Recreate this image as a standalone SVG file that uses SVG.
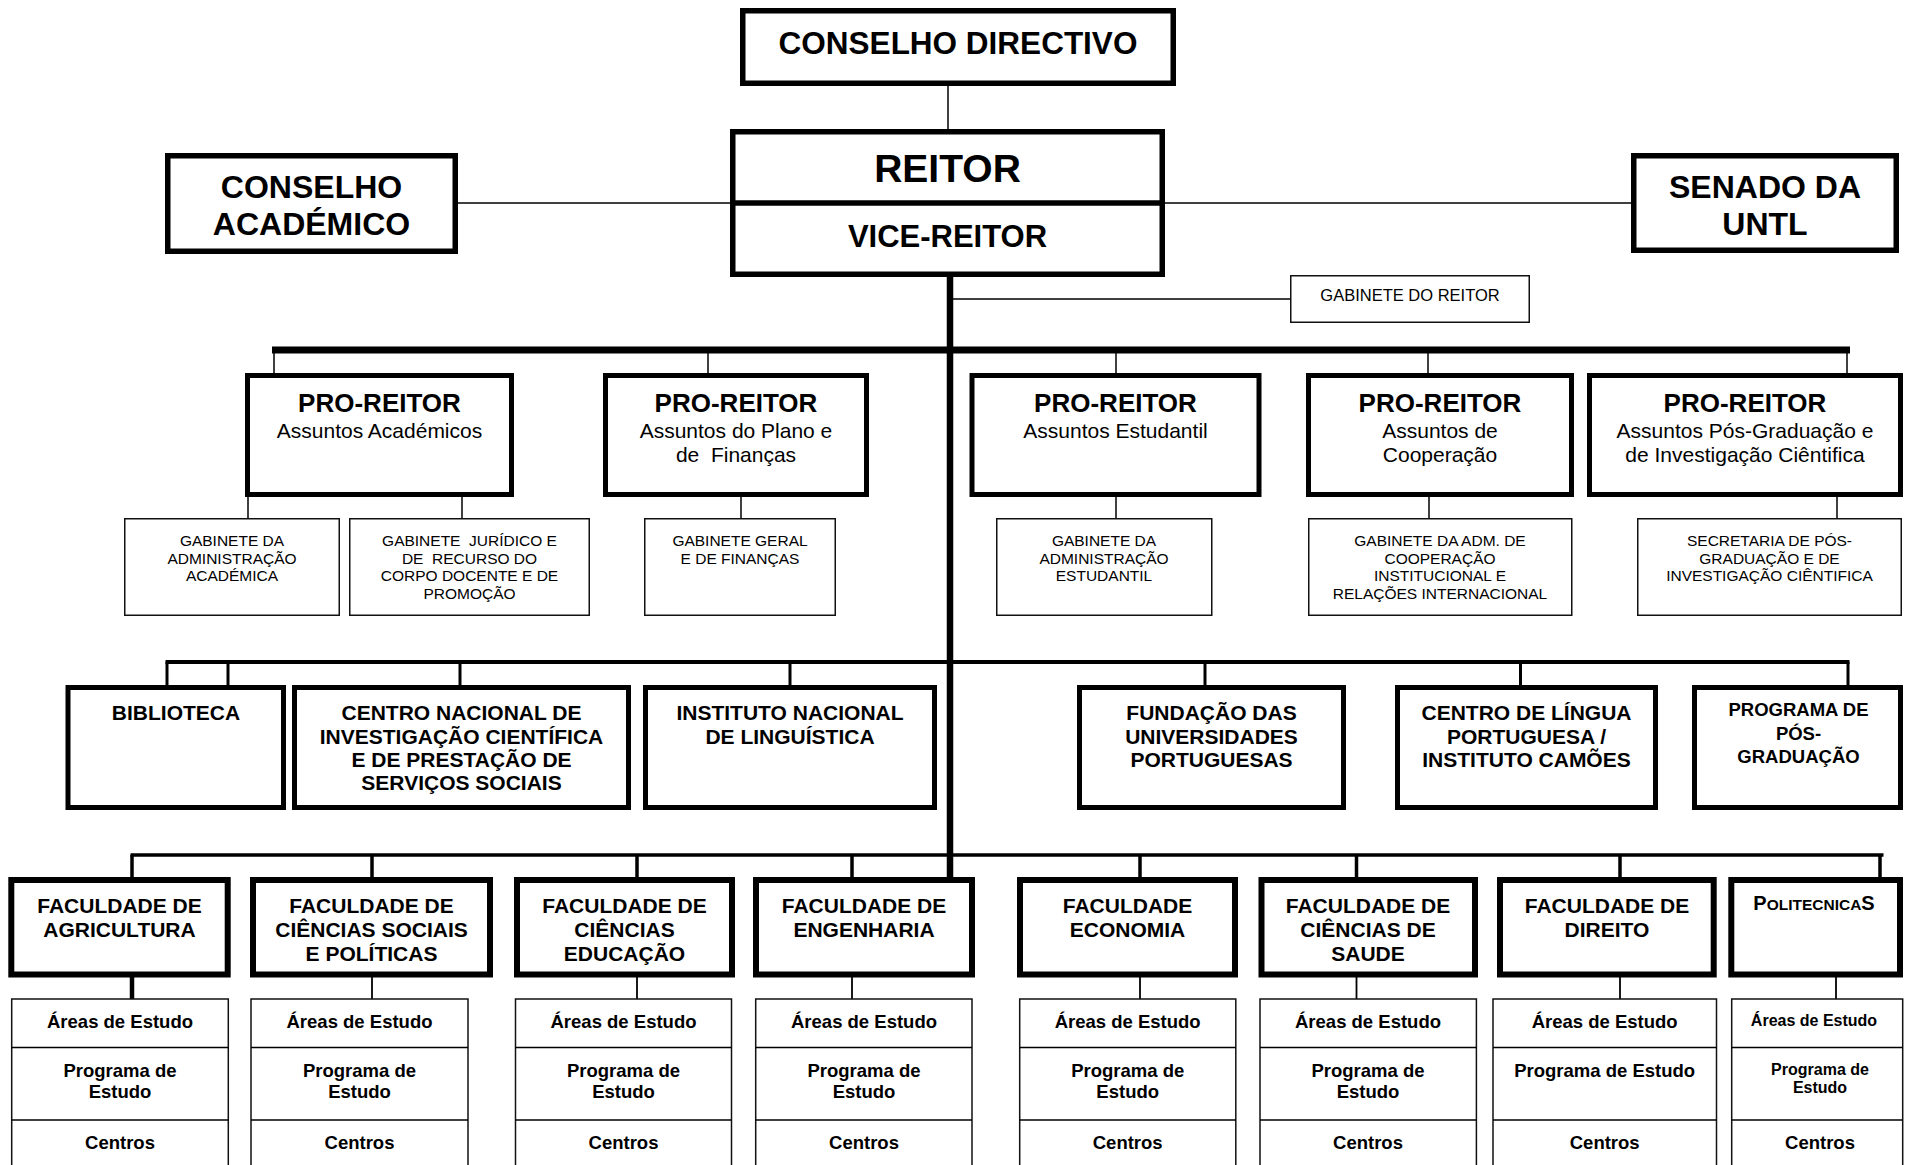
<svg xmlns="http://www.w3.org/2000/svg" width="1905" height="1165" viewBox="0 0 1905 1165">
<style>
  .bx{fill:#fff;stroke:#000;stroke-width:5.5}
  .bp{fill:#fff;stroke:#000;stroke-width:5}
  .bf{fill:#fff;stroke:#000;stroke-width:6}
  .bt{fill:#fff;stroke:#111;stroke-width:1.5}
  .ln{stroke:#000;stroke-width:1.5;fill:none}
  .b{font-family:'Liberation Sans',Arial,sans-serif;font-weight:bold;text-anchor:middle;fill:#000}
  .r{font-family:'Liberation Sans',Arial,sans-serif;text-anchor:middle;fill:#000}
  .t31{font-size:31.5px}
  .t26{font-size:26px}
  .t21{font-size:21px}
  .t18{font-size:18.5px}
  .t16{font-size:16px}
  .s15{font-size:15.5px}
</style>
<rect width="1905" height="1165" fill="#fff"/>
<g id="connectors">
  <line class="ln" x1="948" y1="86" x2="948" y2="129"/>
  <line class="ln" x1="458" y1="203" x2="730" y2="203"/>
  <line class="ln" x1="1165" y1="203" x2="1631" y2="203"/>
  <line class="ln" x1="950" y1="299" x2="1290" y2="299"/>
  <line x1="950" y1="277" x2="950" y2="878" stroke="#000" stroke-width="6.5"/>
  <line x1="272" y1="350" x2="1850" y2="350" stroke="#000" stroke-width="7"/>
  <g class="ln">
    <line x1="274" y1="350" x2="274" y2="374"/>
    <line x1="708" y1="350" x2="708" y2="374"/>
    <line x1="1116" y1="350" x2="1116" y2="374"/>
    <line x1="1428" y1="350" x2="1428" y2="374"/>
    <line x1="1847" y1="350" x2="1847" y2="374"/>
    <line x1="248" y1="497" x2="248" y2="519"/>
    <line x1="462" y1="497" x2="462" y2="519"/>
    <line x1="741" y1="497" x2="741" y2="519"/>
    <line x1="1116" y1="497" x2="1116" y2="519"/>
    <line x1="1429" y1="497" x2="1429" y2="519"/>
    <line x1="1837" y1="497" x2="1837" y2="519"/>
  </g>
  <line x1="165.5" y1="662" x2="1849.5" y2="662" stroke="#000" stroke-width="4"/>
  <g stroke="#000" stroke-width="3">
    <line x1="167" y1="662" x2="167" y2="686"/>
    <line x1="228" y1="662" x2="228" y2="686"/>
    <line x1="460" y1="662" x2="460" y2="686"/>
    <line x1="790" y1="662" x2="790" y2="686"/>
    <line x1="1205" y1="662" x2="1205" y2="686"/>
    <line x1="1520.5" y1="662" x2="1520.5" y2="686"/>
    <line x1="1848" y1="662" x2="1848" y2="686"/>
  </g>
  <line x1="130.5" y1="855" x2="1883.5" y2="855" stroke="#000" stroke-width="3.5"/>
  <g stroke="#000" stroke-width="3.5">
    <line x1="132" y1="855" x2="132" y2="878"/>
    <line x1="372" y1="855" x2="372" y2="878"/>
    <line x1="637" y1="855" x2="637" y2="878"/>
    <line x1="852" y1="855" x2="852" y2="878"/>
    <line x1="1140" y1="855" x2="1140" y2="878"/>
    <line x1="1356.5" y1="855" x2="1356.5" y2="878"/>
    <line x1="1620" y1="855" x2="1620" y2="878"/>
    <line x1="1880" y1="855" x2="1880" y2="878"/>
  </g>
  <line x1="132" y1="977" x2="132" y2="1000" stroke="#000" stroke-width="4.5"/>
  <g stroke="#000" stroke-width="1.8">
    <line x1="372" y1="977" x2="372" y2="1000"/>
    <line x1="637" y1="977" x2="637" y2="1000"/>
    <line x1="852" y1="977" x2="852" y2="1000"/>
    <line x1="1140" y1="977" x2="1140" y2="1000"/>
    <line x1="1356.5" y1="977" x2="1356.5" y2="1000"/>
    <line x1="1620" y1="977" x2="1620" y2="1000"/>
    <line x1="1836" y1="977" x2="1836" y2="1000"/>
  </g>
</g>

<g id="conselho-directivo">
  <rect class="bx" x="742.75" y="10.75" width="430.5" height="72.5"/>
  <text class="b t31" x="958" y="54">CONSELHO DIRECTIVO</text>
</g>
<g id="reitor">
  <rect class="bx" x="732.75" y="131.75" width="429.5" height="142.5"/>
  <line x1="730" y1="203" x2="1165" y2="203" stroke="#000" stroke-width="5.5"/>
  <text class="b" font-size="39" x="947.5" y="181.5">REITOR</text>
  <text class="b" font-size="31" x="947.5" y="246.5">VICE-REITOR</text>
</g>
<g id="conselho-academico">
  <rect class="bx" x="167.75" y="155.75" width="287.5" height="95.5"/>
  <text class="b" font-size="32" x="311.5" y="198.3">CONSELHO</text>
  <text class="b" font-size="32" x="311.5" y="235">ACADÉMICO</text>
</g>
<g id="senado">
  <rect class="bx" x="1633.75" y="155.75" width="262.5" height="94.5"/>
  <text class="b" font-size="32" x="1765" y="197.5">SENADO DA</text>
  <text class="b" font-size="32" x="1765" y="235">UNTL</text>
</g>
<g id="gabinete-reitor">
  <rect class="bt" x="1290.75" y="275.75" width="238.5" height="46.5"/>
  <text class="r" font-size="16.5" x="1410" y="301">GABINETE DO REITOR</text>
</g>

<g id="pro-reitor-academicos">
  <rect class="bp" x="247.5" y="375.5" width="264" height="119"/>
  <text class="b t26" x="379.5" y="412">PRO-REITOR</text>
  <text class="r t21" x="379.5" y="438">Assuntos Académicos</text>
</g>
<g id="pro-reitor-plano">
  <rect class="bp" x="605.5" y="375.5" width="261" height="119"/>
  <text class="b t26" x="736" y="412">PRO-REITOR</text>
  <text class="r t21" x="736" y="438">Assuntos do Plano e</text>
  <text class="r t21" x="736" y="461.5" xml:space="preserve">de  Finanças</text>
</g>
<g id="pro-reitor-estudantil">
  <rect class="bp" x="972" y="375.5" width="287" height="119"/>
  <text class="b t26" x="1115.5" y="412">PRO-REITOR</text>
  <text class="r t21" x="1115.5" y="438">Assuntos Estudantil</text>
</g>
<g id="pro-reitor-cooperacao">
  <rect class="bp" x="1308.5" y="375.5" width="263" height="119"/>
  <text class="b t26" x="1440" y="412">PRO-REITOR</text>
  <text class="r t21" x="1440" y="438">Assuntos de</text>
  <text class="r t21" x="1440" y="461.5">Cooperação</text>
</g>
<g id="pro-reitor-pos-graduacao">
  <rect class="bp" x="1589.5" y="375.5" width="311" height="119"/>
  <text class="b t26" x="1745" y="412">PRO-REITOR</text>
  <text class="r t21" x="1745" y="438">Assuntos Pós-Graduação e</text>
  <text class="r t21" x="1745" y="461.5">de Investigação Ciêntifica</text>
</g>

<g id="gab-adm-academica">
  <rect class="bt" x="124.75" y="518.75" width="214.5" height="96.5"/>
  <text class="r s15" x="232" y="546">GABINETE DA</text>
  <text class="r s15" x="232" y="563.5">ADMINISTRAÇÃO</text>
  <text class="r s15" x="232" y="581">ACADÉMICA</text>
</g>
<g id="gab-juridico">
  <rect class="bt" x="349.75" y="518.75" width="239.5" height="96.5"/>
  <text class="r s15" x="469.5" y="546" xml:space="preserve">GABINETE  JURÍDICO E</text>
  <text class="r s15" x="469.5" y="563.5" xml:space="preserve">DE  RECURSO DO</text>
  <text class="r s15" x="469.5" y="581">CORPO DOCENTE E DE</text>
  <text class="r s15" x="469.5" y="598.5">PROMOÇÃO</text>
</g>
<g id="gab-geral-financas">
  <rect class="bt" x="644.75" y="518.75" width="190.5" height="96.5"/>
  <text class="r s15" x="740" y="546">GABINETE GERAL</text>
  <text class="r s15" x="740" y="563.5">E DE FINANÇAS</text>
</g>
<g id="gab-adm-estudantil">
  <rect class="bt" x="996.75" y="518.75" width="215" height="96.5"/>
  <text class="r s15" x="1104" y="546">GABINETE DA</text>
  <text class="r s15" x="1104" y="563.5">ADMINISTRAÇÃO</text>
  <text class="r s15" x="1104" y="581">ESTUDANTIL</text>
</g>
<g id="gab-adm-cooperacao">
  <rect class="bt" x="1308.75" y="518.75" width="263" height="96.5"/>
  <text class="r s15" x="1440" y="546">GABINETE DA ADM. DE</text>
  <text class="r s15" x="1440" y="563.5">COOPERAÇÃO</text>
  <text class="r s15" x="1440" y="581">INSTITUCIONAL E</text>
  <text class="r s15" x="1440" y="598.5">RELAÇÕES INTERNACIONAL</text>
</g>
<g id="secretaria-pos-graduacao">
  <rect class="bt" x="1637.75" y="518.75" width="263.5" height="96.5"/>
  <text class="r s15" x="1769.5" y="546">SECRETARIA DE PÓS-</text>
  <text class="r s15" x="1769.5" y="563.5">GRADUAÇÃO E DE</text>
  <text class="r s15" x="1769.5" y="581">INVESTIGAÇÃO CIÊNTIFICA</text>
</g>

<g id="biblioteca">
  <rect class="bp" x="68" y="687.5" width="215.5" height="120"/>
  <text class="b t21" x="176" y="720">BIBLIOTECA</text>
</g>
<g id="centro-nacional-investigacao">
  <rect class="bp" x="294.5" y="687.5" width="334" height="120"/>
  <text class="b t21" x="461.5" y="720">CENTRO NACIONAL DE</text>
  <text class="b t21" x="461.5" y="743.5">INVESTIGAÇÃO CIENTÍFICA</text>
  <text class="b t21" x="461.5" y="767">E DE PRESTAÇÃO DE</text>
  <text class="b t21" x="461.5" y="790">SERVIÇOS SOCIAIS</text>
</g>
<g id="instituto-linguistica">
  <rect class="bp" x="645.5" y="687.5" width="289" height="120"/>
  <text class="b t21" x="790" y="720">INSTITUTO NACIONAL</text>
  <text class="b t21" x="790" y="743.5">DE LINGUÍSTICA</text>
</g>
<g id="fundacao-universidades">
  <rect class="bp" x="1079.5" y="687.5" width="264" height="120"/>
  <text class="b t21" x="1211.5" y="720">FUNDAÇÃO DAS</text>
  <text class="b t21" x="1211.5" y="743.5">UNIVERSIDADES</text>
  <text class="b t21" x="1211.5" y="767">PORTUGUESAS</text>
</g>
<g id="centro-lingua-portuguesa">
  <rect class="bp" x="1397.5" y="687.5" width="258" height="120"/>
  <text class="b t21" x="1526.5" y="720">CENTRO DE LÍNGUA</text>
  <text class="b t21" x="1526.5" y="743.5">PORTUGUESA /</text>
  <text class="b t21" x="1526.5" y="767">INSTITUTO CAMÕES</text>
</g>
<g id="programa-pos-graduacao">
  <rect class="bp" x="1694.5" y="687.5" width="206" height="120"/>
  <text class="b t18" x="1798.5" y="716">PROGRAMA DE</text>
  <text class="b t18" x="1798.5" y="739.5">PÓS-</text>
  <text class="b t18" x="1798.5" y="763">GRADUAÇÃO</text>
</g>

<g id="fac-agricultura">
  <rect class="bf" x="11.3" y="880" width="216.4" height="94.5"/>
  <text class="b t21" x="119.5" y="913">FACULDADE DE</text>
  <text class="b t21" x="119.5" y="937">AGRICULTURA</text>
</g>
<g id="fac-ciencias-sociais">
  <rect class="bf" x="253" y="880" width="237" height="94.5"/>
  <text class="b t21" x="371.5" y="913">FACULDADE DE</text>
  <text class="b t21" x="371.5" y="937">CIÊNCIAS SOCIAIS</text>
  <text class="b t21" x="371.5" y="960.5">E POLÍTICAS</text>
</g>
<g id="fac-ciencias-educacao">
  <rect class="bf" x="517" y="880" width="215" height="94.5"/>
  <text class="b t21" x="624.5" y="913">FACULDADE DE</text>
  <text class="b t21" x="624.5" y="937">CIÊNCIAS</text>
  <text class="b t21" x="624.5" y="960.5">EDUCAÇÃO</text>
</g>
<g id="fac-engenharia">
  <rect class="bf" x="756" y="880" width="216" height="94.5"/>
  <text class="b t21" x="864" y="913">FACULDADE DE</text>
  <text class="b t21" x="864" y="937">ENGENHARIA</text>
</g>
<g id="fac-economia">
  <rect class="bf" x="1020" y="880" width="215" height="94.5"/>
  <text class="b t21" x="1127.5" y="913">FACULDADE</text>
  <text class="b t21" x="1127.5" y="937">ECONOMIA</text>
</g>
<g id="fac-ciencias-saude">
  <rect class="bf" x="1261.5" y="880" width="213.5" height="94.5"/>
  <text class="b t21" x="1368" y="913">FACULDADE DE</text>
  <text class="b t21" x="1368" y="937">CIÊNCIAS DE</text>
  <text class="b t21" x="1368" y="960.5">SAUDE</text>
</g>
<g id="fac-direito">
  <rect class="bf" x="1500" y="880" width="213.7" height="94.5"/>
  <text class="b t21" x="1607" y="913">FACULDADE DE</text>
  <text class="b t21" x="1607" y="937">DIREITO</text>
</g>
<g id="politecnicas">
  <rect class="bf" x="1731.3" y="880" width="168.7" height="94.5"/>
  <text class="b" x="1814" y="910" font-size="20">P<tspan font-size="15.5">OLITECNICA</tspan>S</text>
</g>

<g id="sub-agricultura">
  <rect class="bt" x="11.7" y="999" width="216.6" height="180"/>
  <line class="ln" x1="11.7" y1="1047.5" x2="228.3" y2="1047.5"/>
  <line class="ln" x1="11.7" y1="1120" x2="228.3" y2="1120"/>
  <text class="b t18" x="120" y="1028">Áreas de Estudo</text>
  <text class="b t18" x="120" y="1076.5">Programa de</text>
  <text class="b t18" x="120" y="1097.5">Estudo</text>
  <text class="b t18" x="120" y="1148.5">Centros</text>
</g>
<g id="sub-ciencias-sociais">
  <rect class="bt" x="251" y="999" width="217" height="180"/>
  <line class="ln" x1="251" y1="1047.5" x2="468" y2="1047.5"/>
  <line class="ln" x1="251" y1="1120" x2="468" y2="1120"/>
  <text class="b t18" x="359.5" y="1028">Áreas de Estudo</text>
  <text class="b t18" x="359.5" y="1076.5">Programa de</text>
  <text class="b t18" x="359.5" y="1097.5">Estudo</text>
  <text class="b t18" x="359.5" y="1148.5">Centros</text>
</g>
<g id="sub-ciencias-educacao">
  <rect class="bt" x="515.5" y="999" width="216" height="180"/>
  <line class="ln" x1="515.5" y1="1047.5" x2="731.5" y2="1047.5"/>
  <line class="ln" x1="515.5" y1="1120" x2="731.5" y2="1120"/>
  <text class="b t18" x="623.5" y="1028">Áreas de Estudo</text>
  <text class="b t18" x="623.5" y="1076.5">Programa de</text>
  <text class="b t18" x="623.5" y="1097.5">Estudo</text>
  <text class="b t18" x="623.5" y="1148.5">Centros</text>
</g>
<g id="sub-engenharia">
  <rect class="bt" x="755.7" y="999" width="216.3" height="180"/>
  <line class="ln" x1="755.7" y1="1047.5" x2="972" y2="1047.5"/>
  <line class="ln" x1="755.7" y1="1120" x2="972" y2="1120"/>
  <text class="b t18" x="864" y="1028">Áreas de Estudo</text>
  <text class="b t18" x="864" y="1076.5">Programa de</text>
  <text class="b t18" x="864" y="1097.5">Estudo</text>
  <text class="b t18" x="864" y="1148.5">Centros</text>
</g>
<g id="sub-economia">
  <rect class="bt" x="1019.7" y="999" width="216.1" height="180"/>
  <line class="ln" x1="1019.7" y1="1047.5" x2="1235.8" y2="1047.5"/>
  <line class="ln" x1="1019.7" y1="1120" x2="1235.8" y2="1120"/>
  <text class="b t18" x="1127.7" y="1028">Áreas de Estudo</text>
  <text class="b t18" x="1127.7" y="1076.5">Programa de</text>
  <text class="b t18" x="1127.7" y="1097.5">Estudo</text>
  <text class="b t18" x="1127.7" y="1148.5">Centros</text>
</g>
<g id="sub-ciencias-saude">
  <rect class="bt" x="1260" y="999" width="216.4" height="180"/>
  <line class="ln" x1="1260" y1="1047.5" x2="1476.4" y2="1047.5"/>
  <line class="ln" x1="1260" y1="1120" x2="1476.4" y2="1120"/>
  <text class="b t18" x="1368" y="1028">Áreas de Estudo</text>
  <text class="b t18" x="1368" y="1076.5">Programa de</text>
  <text class="b t18" x="1368" y="1097.5">Estudo</text>
  <text class="b t18" x="1368" y="1148.5">Centros</text>
</g>
<g id="sub-direito">
  <rect class="bt" x="1493" y="999" width="223.5" height="180"/>
  <line class="ln" x1="1493" y1="1047.5" x2="1716.5" y2="1047.5"/>
  <line class="ln" x1="1493" y1="1120" x2="1716.5" y2="1120"/>
  <text class="b t18" x="1604.7" y="1028">Áreas de Estudo</text>
  <text class="b t18" x="1604.7" y="1076.5">Programa de Estudo</text>
  <text class="b t18" x="1604.7" y="1148.5">Centros</text>
</g>
<g id="sub-politecnicas">
  <rect class="bt" x="1731.7" y="999" width="171" height="180"/>
  <line class="ln" x1="1731.7" y1="1047.5" x2="1902.7" y2="1047.5"/>
  <line class="ln" x1="1731.7" y1="1120" x2="1902.7" y2="1120"/>
  <text class="b t16" x="1814" y="1026">Áreas de Estudo</text>
  <text class="b t16" x="1820" y="1074.5">Programa de</text>
  <text class="b t16" x="1820" y="1093">Estudo</text>
  <text class="b t18" x="1820" y="1148.5">Centros</text>
</g>
</svg>
